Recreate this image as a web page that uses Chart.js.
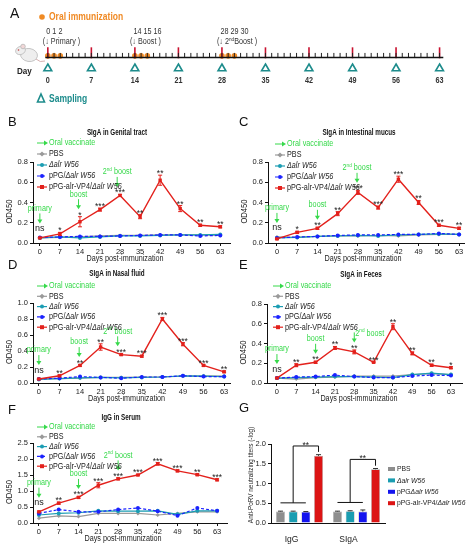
<!DOCTYPE html>
<html>
<head>
<meta charset="utf-8">
<title>Oral immunization and antibody responses</title>
<script src="https://cdn.jsdelivr.net/npm/chart.js@4.4.1/dist/chart.umd.min.js"></script>
<style>
  html, body { margin: 0; padding: 0; background: #fff; }
  #page { position: relative; width: 468px; height: 550px; overflow: hidden; background: #fff; }
  #page canvas { position: absolute; }
</style>
</head>
<body>
<div id="page">
  <canvas id="timeline" width="468" height="110" style="left:0px;top:0px"></canvas>
  <canvas id="genital" width="234" height="158" style="left:0px;top:110px"></canvas>
  <canvas id="intestinal" width="234" height="158" style="left:234px;top:110px"></canvas>
  <canvas id="nasal" width="234" height="155" style="left:0px;top:255px"></canvas>
  <canvas id="feces" width="234" height="155" style="left:234px;top:255px"></canvas>
  <canvas id="serum" width="234" height="155" style="left:0px;top:395px"></canvas>
  <canvas id="neutral" width="234" height="155" style="left:234px;top:395px"></canvas>
</div>
<script>
// ---- data ----
const days = [0, 7, 14, 21, 28, 35, 42, 49, 56, 63];
const immunizationDays = [0, 1, 2, 14, 15, 16, 28, 29, 30];
const doseStartDays = [0, 14, 28];
const samplingDays = [0, 7, 14, 21, 28, 35, 42, 49, 56, 63];
const firstDay = 0;
const lastDay = 63;

// B - SIgA in genital tract
const genitalPBS = [0.05, 0.055, 0.06, 0.07, 0.075, 0.075, 0.08, 0.08, 0.08, 0.075];
const genitalAlr = [0.05, 0.06, 0.05, 0.06, 0.07, 0.07, 0.075, 0.08, 0.08, 0.085];
const genitalPPG = [0.055, 0.06, 0.065, 0.065, 0.07, 0.075, 0.08, 0.08, 0.07, 0.075];
const genitalVP4 = [0.05, 0.09, 0.21, 0.33, 0.47, 0.26, 0.62, 0.34, 0.175, 0.16];
const genitalVP4Err = [0.005, 0.015, 0.05, 0.015, 0.01, 0.02, 0.05, 0.03, 0.01, 0.01];
const genitalStars = ['ns', '*', '*', '***', '***', '**', '**', '**', '**', '**'];

// C - SIgA in intestinal mucus
const intestPBS = [0.06, 0.055, 0.065, 0.07, 0.07, 0.075, 0.07, 0.08, 0.085, 0.085];
const intestAlr = [0.05, 0.055, 0.065, 0.07, 0.075, 0.07, 0.08, 0.085, 0.09, 0.085];
const intestPPG = [0.05, 0.06, 0.065, 0.075, 0.08, 0.08, 0.085, 0.085, 0.095, 0.085];
const intestVP4 = [0.04, 0.105, 0.145, 0.29, 0.5, 0.35, 0.63, 0.4, 0.175, 0.145];
const intestVP4Err = [0.005, 0.01, 0.01, 0.02, 0.02, 0.015, 0.03, 0.02, 0.01, 0.01];
const intestStars = ['ns', '*', '**', '**', '***', '***', '***', '**', '***', '**'];

// D - SIgA in nasal fluid
const nasalPBS = [0.05, 0.055, 0.06, 0.07, 0.07, 0.075, 0.075, 0.085, 0.09, 0.085];
const nasalAlr = [0.045, 0.055, 0.065, 0.07, 0.065, 0.07, 0.075, 0.09, 0.085, 0.08];
const nasalPPG = [0.05, 0.06, 0.08, 0.07, 0.06, 0.075, 0.075, 0.09, 0.08, 0.08];
const nasalVP4 = [0.05, 0.09, 0.22, 0.45, 0.355, 0.335, 0.8, 0.485, 0.22, 0.14];
const nasalVP4Err = [0.005, 0.01, 0.01, 0.04, 0.01, 0.01, 0.02, 0.02, 0.01, 0.01];
const nasalStars = ['ns', '**', '**', '**', '***', '***', '***', '***', '***', '**'];

// E - SIgA in feces
const fecesPBS = [0.05, 0.04, 0.055, 0.06, 0.07, 0.07, 0.07, 0.085, 0.095, 0.085];
const fecesAlr = [0.05, 0.055, 0.06, 0.065, 0.065, 0.06, 0.055, 0.085, 0.1, 0.085];
const fecesPPG = [0.05, 0.06, 0.065, 0.08, 0.065, 0.055, 0.055, 0.07, 0.08, 0.075];
const fecesVP4 = [0.05, 0.18, 0.21, 0.355, 0.315, 0.21, 0.57, 0.3, 0.18, 0.155];
const fecesVP4Err = [0.005, 0.015, 0.01, 0.015, 0.02, 0.005, 0.03, 0.015, 0.01, 0.01];
const fecesStars = ['ns', '**', '**', '**', '**', '***', '**', '**', '**', '*'];

// F - IgG in serum
const serumPBS = [0.15, 0.22, 0.2, 0.3, 0.3, 0.3, 0.25, 0.3, 0.35, 0.35];
const serumAlr = [0.25, 0.3, 0.32, 0.38, 0.37, 0.37, 0.38, 0.27, 0.38, 0.38];
const serumPPG = [0.3, 0.42, 0.35, 0.35, 0.42, 0.47, 0.37, 0.23, 0.47, 0.38];
const serumVP4 = [0.35, 0.62, 0.8, 1.18, 1.38, 1.5, 1.85, 1.63, 1.51, 1.35];
const serumVP4Err = [0.02, 0.03, 0.03, 0.08, 0.03, 0.02, 0.04, 0.03, 0.03, 0.03];
const serumStars = ['ns', '**', '***', '***', '***', '***', '***', '***', '**', '***'];

// G - neutralizing titers
const neutCategories = ['IgG', 'SIgA'];
const neutPBS = [0.29, 0.29];
const neutAlr = [0.29, 0.3];
const neutPPG = [0.28, 0.29];
const neutVP4 = [1.7, 1.36];
const neutErr = [[0.01, 0.01], [0.01, 0.01], [0.01, 0.04], [0.03, 0.02]];
const neutStars = ['**', '**'];

// ---- styles ----
const FONT = "'Liberation Sans', Arial, sans-serif";
const SQ = 0.85;            // the figure's lettering is horizontally condensed
const TEXT = '#222';
const AXIS = '#111';
const GREEN = '#36d94a';
const ORANGE = '#f08a24';
const TEAL = '#1d8c8c';
Chart.defaults.font.family = FONT;
Chart.defaults.color = TEXT;

const groupStyles = [
  { label: [['PBS']], color: '#9a9a9a', point: 'diamond', dash: [] },
  { label: [['Δalr W56', true]], color: '#1b9db3', point: 'circle', dash: [] },
  { label: [['pPG/'], ['Δalr W56', true]], color: '#1a22ff', point: 'circle', dash: [3, 2] },
  { label: [['pPG-alr-VP4/'], ['Δalr W56', true]], color: '#e3211c', point: 'square', dash: [] }
];
const barColors = ['#8e8e8e', '#1a9db1', '#1414ee', '#dc1414'];

// ---- drawing helpers ----
function fontStr(size, bold, italic) {
  return (italic ? 'italic ' : '') + (bold ? 'bold ' : '') + size + 'px ' + FONT;
}

function partsWidth(ctx, parts, size, bold, sq = SQ) {
  let w = 0;
  parts.forEach(([txt, ital, sup]) => {
    ctx.font = fontStr(sup ? size * 0.65 : size, bold, ital);
    w += ctx.measureText(txt).width * sq;
  });
  return w;
}

function drawParts(ctx, parts, x, y, size, color, bold, sq = SQ) {
  ctx.fillStyle = color;
  ctx.textAlign = 'left';
  ctx.textBaseline = 'middle';
  parts.forEach(([txt, ital, sup]) => {
    ctx.font = fontStr(sup ? size * 0.65 : size, bold, ital);
    ctx.save();
    ctx.translate(x, sup ? y - size * 0.3 : y);
    ctx.scale(sq, 1);
    ctx.fillText(txt, 0, 0);
    ctx.restore();
    x += ctx.measureText(txt).width * sq;
  });
  return x;
}

function drawCentered(ctx, parts, cx, y, size, color, bold, sq = SQ) {
  const w = partsWidth(ctx, parts, size, bold, sq);
  drawParts(ctx, parts, cx - w / 2, y, size, color, bold, sq);
}

function drawVertical(ctx, text, cx, cy, size, color) {
  ctx.save();
  ctx.translate(cx, cy);
  ctx.rotate(-Math.PI / 2);
  drawCentered(ctx, [[text]], 0, 0, size, color);
  ctx.restore();
}

function drawMarker(ctx, style, x, y, r) {
  ctx.beginPath();
  if (style === 'circle') ctx.arc(x, y, r, 0, Math.PI * 2);
  else if (style === 'square') ctx.rect(x - r, y - r, 2 * r, 2 * r);
  else if (style === 'diamond') {
    ctx.moveTo(x, y - r * 1.3); ctx.lineTo(x + r * 1.3, y);
    ctx.lineTo(x, y + r * 1.3); ctx.lineTo(x - r * 1.3, y); ctx.closePath();
  }
  ctx.fill();
}

function arrowDown(ctx, x, y1, y2, color) {
  ctx.strokeStyle = color;
  ctx.fillStyle = color;
  ctx.lineWidth = 1;
  ctx.beginPath(); ctx.moveTo(x, y1); ctx.lineTo(x, y2 - 3); ctx.stroke();
  ctx.beginPath(); ctx.moveTo(x - 2.5, y2 - 4); ctx.lineTo(x + 2.5, y2 - 4); ctx.lineTo(x, y2); ctx.closePath(); ctx.fill();
}

function arrowRight(ctx, x1, x2, y, color) {
  ctx.strokeStyle = color;
  ctx.fillStyle = color;
  ctx.lineWidth = 1;
  ctx.beginPath(); ctx.moveTo(x1, y); ctx.lineTo(x2 - 3, y); ctx.stroke();
  ctx.beginPath(); ctx.moveTo(x2 - 4, y - 2.5); ctx.lineTo(x2 - 4, y + 2.5); ctx.lineTo(x2, y); ctx.closePath(); ctx.fill();
}

function drawMouse(ctx) {
  ctx.save();
  ctx.strokeStyle = '#d6b0b0';
  ctx.lineWidth = 1;
  ctx.beginPath(); ctx.moveTo(36, 59); ctx.quadraticCurveTo(40, 63, 45, 61); ctx.stroke();
  ctx.fillStyle = '#eeeeee';
  ctx.strokeStyle = '#b8b8b8';
  ctx.lineWidth = 0.8;
  ctx.beginPath(); ctx.ellipse(29, 55, 8.5, 6.5, 0.15, 0, Math.PI * 2); ctx.fill(); ctx.stroke();
  ctx.beginPath(); ctx.ellipse(20.5, 50.5, 5, 4, -0.4, 0, Math.PI * 2); ctx.fill(); ctx.stroke();
  ctx.fillStyle = '#f2d7d7';
  ctx.beginPath(); ctx.arc(23, 46.5, 2.3, 0, Math.PI * 2); ctx.fill(); ctx.stroke();
  ctx.fillStyle = '#c04040';
  ctx.beginPath(); ctx.arc(18.5, 50, 0.8, 0, Math.PI * 2); ctx.fill();
  ctx.restore();
}

// ---- A: immunization timeline ----
const timelineDays = [];
for (let d = firstDay; d <= lastDay; d++) timelineDays.push(d);

const doseNotes = [
  [['(↓ Primary )']],
  [['(↓ Boost )']],
  [['(↓ 2'], ['nd', false, true], ['Boost )']]
];

const timelineText = {
  id: 'timelineText',
  beforeDatasetsDraw(chart) {
    drawMouse(chart.ctx);
  },
  afterDatasetsDraw(chart) {
    const ctx = chart.ctx;
    const px = d => chart.scales.x.getPixelForValue(d);
    ctx.save();
    drawParts(ctx, [['A']], 10, 14, 14, '#111', false, 1);

    ctx.fillStyle = ORANGE;
    ctx.beginPath(); ctx.arc(42, 17, 2.8, 0, Math.PI * 2); ctx.fill();
    drawParts(ctx, [['Oral immunization']], 49, 17, 10, ORANGE, true);

    doseStartDays.forEach((d, g) => {
      const label = immunizationDays.filter(v => v >= d && v < d + 3).join(' ');
      drawParts(ctx, [[label]], px(d) - 1.5, 32, 8.5, '#333');
      drawParts(ctx, doseNotes[g], px(d) - 5, 42, 8.5, '#333');
    });

    drawParts(ctx, [['Day']], 17, 71, 9.5, '#222', true);
    samplingDays.forEach(d => drawCentered(ctx, [[String(d)]], px(d), 81, 8.5, '#333', true));

    // sampling key
    ctx.strokeStyle = TEAL;
    ctx.lineWidth = 1.6;
    ctx.beginPath(); ctx.moveTo(41, 94); ctx.lineTo(44.5, 102); ctx.lineTo(37.5, 102); ctx.closePath(); ctx.stroke();
    drawParts(ctx, [['Sampling']], 49, 99, 10, TEAL, true);
    ctx.restore();
  }
};

new Chart(document.getElementById('timeline'), {
  type: 'scatter',
  data: {
    datasets: [
      {
        data: [{ x: firstDay - 0.4, y: 58 }, { x: lastDay + 0.6, y: 58 }],
        showLine: true, borderColor: '#111', borderWidth: 1.5, pointRadius: 0
      },
      {
        data: timelineDays.map(d => ({ x: d, y: 55.5 })),
        pointStyle: 'line', pointRotation: 90, pointRadius: 2.5,
        pointBorderColor: '#222', pointBorderWidth: 1
      },
      {
        data: samplingDays.map(d => ({ x: d, y: 52.5 })),
        pointStyle: 'line', pointRotation: 90, pointRadius: 5.5,
        pointBorderColor: '#c8102e', pointBorderWidth: 1.6
      },
      {
        data: immunizationDays.map(d => ({ x: d, y: 56 })),
        pointStyle: 'circle', pointRadius: 2.8,
        pointBackgroundColor: ORANGE, pointBorderWidth: 0
      },
      {
        data: samplingDays.map(d => ({ x: d, y: 70.5 })),
        pointStyle: 'triangle', pointRadius: 4.5,
        pointBackgroundColor: 'rgba(0,0,0,0)', pointBorderColor: TEAL, pointBorderWidth: 1.6
      }
    ]
  },
  options: {
    responsive: false,
    animation: false,
    events: [],
    layout: { padding: 0 },
    plugins: { legend: { display: false }, tooltip: { enabled: false } },
    scales: {
      x: { type: 'linear', display: false, min: -6.55, max: 66.43 },
      y: { type: 'linear', display: false, min: 0, max: 110, reverse: true }
    }
  },
  plugins: [timelineText]
});

// ---- B-F: OD450 time courses ----
const P_PRIMARY = [['primary']];
const P_BOOST = [['boost']];
const P_SECOND = [['2'], ['nd', false, true], [' boost']];

function panelDecor(p) {
  const box = p.box, area = p.area;
  return {
    id: 'decor',
    afterDatasetsDraw(chart) {
      const ctx = chart.ctx;
      const xs = chart.scales.x, ys = chart.scales.y;
      const red = p.series[3];
      ctx.save();
      // error bars on the vaccine group
      ctx.strokeStyle = groupStyles[3].color;
      ctx.lineWidth = 1;
      chart.getDatasetMeta(3).data.forEach((pt, i) => {
        const top = ys.getPixelForValue(red[i] + p.err[i]);
        const bot = ys.getPixelForValue(red[i] - p.err[i]);
        ctx.beginPath();
        ctx.moveTo(pt.x, top); ctx.lineTo(pt.x, bot);
        ctx.moveTo(pt.x - 2, top); ctx.lineTo(pt.x + 2, top);
        ctx.moveTo(pt.x - 2, bot); ctx.lineTo(pt.x + 2, bot);
        ctx.stroke();
      });
      // significance
      const markTop = [];
      ctx.fillStyle = TEXT;
      ctx.textAlign = 'center';
      ctx.textBaseline = 'alphabetic';
      p.stars.forEach((s, i) => {
        const x = xs.getPixelForValue(days[i]);
        if (s === 'ns') {
          const hi = Math.max(...p.series.map(v => v[i])) + p.err[i];
          const base = ys.getPixelForValue(hi) - 6;
          ctx.font = fontStr(9);
          ctx.fillText(s, x, base);
          markTop[i] = base - 5.5;
        } else {
          const base = ys.getPixelForValue(red[i] + p.err[i]) + 1;
          ctx.font = fontStr(8.5);
          ctx.fillText(s, x, base);
          markTop[i] = base - 6.5;
        }
      });
      // vaccination arrows
      p.notes.forEach(n => {
        const i = days.indexOf(n.day);
        const x = xs.getPixelForValue(n.day + (n.dx || 0));
        const tip = markTop[i] - 2;
        const start = tip - p.arrowLen;
        arrowDown(ctx, x, start, tip, GREEN);
        if (n.side === 'right') drawParts(ctx, n.parts, x + 1, start + 1, 8.5, GREEN);
        else drawCentered(ctx, n.parts, x, start - 5, 8.5, GREEN);
      });
      ctx.restore();
    },
    afterDraw(chart) {
      const ctx = chart.ctx;
      const xs = chart.scales.x;
      ctx.save();
      drawParts(ctx, [[p.letter]], p.letterAt[0] - box.x, p.letterAt[1] - box.y, 13, '#111', false, 1);
      drawCentered(ctx, [[p.title]], p.titleAt[0] - box.x, p.titleAt[1] - box.y, 9, '#111', true, 0.7);

      // axis titles
      const midX = (xs.getPixelForValue(days[0]) + xs.getPixelForValue(days[days.length - 1])) / 2 - 5;
      drawCentered(ctx, [['Days post-immunization']], midX, area.b + 16 - box.y, 8.5, TEXT);
      drawVertical(ctx, 'OD450', area.l - 23 - box.x, (area.t + area.b) / 2 + 9 - box.y, 9, TEXT);

      // legend
      const lx = p.legendAt[0] - box.x;
      const ly = p.legendAt[1] - box.y;
      const dy = p.legendAt[2];
      arrowRight(ctx, lx, lx + 11, ly, GREEN);
      drawParts(ctx, [['Oral vaccinate']], lx + 12, ly, 8.5, GREEN);
      groupStyles.forEach((g, k) => {
        const y = ly + dy * (k + 1);
        ctx.strokeStyle = g.color;
        ctx.lineWidth = 1.2;
        ctx.setLineDash(g.dash);
        ctx.beginPath(); ctx.moveTo(lx, y); ctx.lineTo(lx + 10, y); ctx.stroke();
        ctx.setLineDash([]);
        ctx.fillStyle = g.color;
        drawMarker(ctx, g.point, lx + 5, y, 2);
        drawParts(ctx, g.label, lx + 12, y, 8.5, TEXT);
      });
      ctx.restore();
    }
  };
}

function linePanel(p) {
  const box = p.box, area = p.area;
  new Chart(document.getElementById(p.id), {
    type: 'line',
    data: {
      datasets: p.series.map((vals, k) => ({
        data: days.map((d, i) => ({ x: d, y: vals[i] })),
        borderColor: groupStyles[k].color,
        backgroundColor: groupStyles[k].color,
        pointBackgroundColor: groupStyles[k].color,
        pointBorderColor: groupStyles[k].color,
        borderWidth: k === 3 ? 1.4 : 1.2,
        borderDash: groupStyles[k].dash,
        pointStyle: { diamond: 'rectRot', circle: 'circle', square: 'rect' }[groupStyles[k].point],
        pointRadius: k === 3 ? 2.4 : 2,
        pointBorderWidth: 0,
        tension: 0,
        order: 3 - k
      }))
    },
    options: {
      responsive: false,
      animation: false,
      events: [],
      layout: { padding: { left: 0, bottom: 0, top: area.t - box.y, right: box.x + box.w - area.r } },
      plugins: { legend: { display: false }, tooltip: { enabled: false } },
      scales: {
        x: {
          type: 'linear',
          min: p.xRange[0],
          max: p.xRange[1],
          afterBuildTicks: s => { s.ticks = days.map(v => ({ value: v })); },
          afterFit: s => { s.height = box.y + box.h - area.b; },
          grid: { drawOnChartArea: false, tickLength: 3, color: AXIS },
          border: { color: AXIS, width: 1 },
          ticks: { font: { size: 7.5 }, color: TEXT, padding: 1, maxRotation: 0, autoSkip: false }
        },
        y: {
          min: 0,
          max: p.yMax,
          afterFit: s => { s.width = area.l - box.x; },
          grid: { drawOnChartArea: false, tickLength: 3, color: AXIS },
          border: { color: AXIS, width: 1 },
          ticks: { stepSize: p.yStep, font: { size: 7.5 }, color: TEXT, padding: 2, callback: v => v.toFixed(1) }
        }
      }
    },
    plugins: [panelDecor(p)]
  });
}

linePanel({
  id: 'genital', letter: 'B', letterAt: [8, 122], title: 'SIgA in Genital tract', titleAt: [117, 133],
  box: { x: 0, y: 110, w: 234, h: 158 }, area: { l: 33, t: 162, r: 233, b: 243 },
  xRange: [-2.4, 66.4], yMax: 0.8, yStep: 0.2, legendAt: [37, 143, 11], arrowLen: 10,
  series: [genitalPBS, genitalAlr, genitalPPG, genitalVP4], err: genitalVP4Err, stars: genitalStars,
  notes: [{ day: 0, parts: P_PRIMARY }, { day: 14, dx: -0.5, parts: P_BOOST }, { day: 28, dx: -1, parts: P_SECOND }]
});

linePanel({
  id: 'intestinal', letter: 'C', letterAt: [239, 122], title: 'SIgA in Intestinal mucus', titleAt: [359, 133],
  box: { x: 234, y: 110, w: 234, h: 158 }, area: { l: 268, t: 162, r: 466, b: 243 },
  xRange: [-3.1, 64.7], yMax: 0.8, yStep: 0.2, legendAt: [275, 144, 11], arrowLen: 10,
  series: [intestPBS, intestAlr, intestPPG, intestVP4], err: intestVP4Err, stars: intestStars,
  notes: [{ day: 0, parts: P_PRIMARY }, { day: 14, parts: P_BOOST }, { day: 28, dx: -0.3, parts: P_SECOND }]
});

linePanel({
  id: 'nasal', letter: 'D', letterAt: [8, 265], title: 'SIgA in Nasal fluid', titleAt: [117, 274],
  box: { x: 0, y: 255, w: 234, h: 155 }, area: { l: 33, t: 303, r: 233, b: 383 },
  xRange: [-2.0, 65.0], yMax: 1.0, yStep: 0.2, legendAt: [37, 286, 10.3], arrowLen: 10,
  series: [nasalPBS, nasalAlr, nasalPPG, nasalVP4], err: nasalVP4Err, stars: nasalStars,
  notes: [{ day: 0, parts: P_PRIMARY }, { day: 14, dx: -0.3, parts: P_BOOST }, { day: 28, dx: -1.2, parts: P_SECOND }]
});

linePanel({
  id: 'feces', letter: 'E', letterAt: [239, 265], title: 'SIgA in Feces', titleAt: [361, 275],
  box: { x: 234, y: 255, w: 234, h: 155 }, area: { l: 267, t: 304, r: 462, b: 383 },
  xRange: [-3.6, 67.0], yMax: 0.8, yStep: 0.2, legendAt: [273, 286, 10.3], arrowLen: 10,
  series: [fecesPBS, fecesAlr, fecesPPG, fecesVP4], err: fecesVP4Err, stars: fecesStars,
  notes: [{ day: 0, parts: P_PRIMARY }, { day: 14, parts: P_BOOST }, { day: 28, parts: P_SECOND, side: 'right' }]
});

linePanel({
  id: 'serum', letter: 'F', letterAt: [8, 410], title: 'IgG in Serum', titleAt: [121, 418],
  box: { x: 0, y: 395, w: 234, h: 155 }, area: { l: 33, t: 443, r: 227, b: 523 },
  xRange: [-2.1, 66.5], yMax: 2.5, yStep: 0.5, legendAt: [37, 427, 9.8], arrowLen: 10,
  series: [serumPBS, serumAlr, serumPPG, serumVP4], err: serumVP4Err, stars: serumStars,
  notes: [{ day: 0, parts: P_PRIMARY }, { day: 14, parts: P_BOOST }, { day: 28, parts: P_SECOND }]
});

// ---- G: neutralizing titers ----
const neutBox = { x: 234, y: 395, w: 234, h: 155 };
const neutArea = { l: 271, t: 444, r: 385, b: 523 };
const neutSeries = [neutPBS, neutAlr, neutPPG, neutVP4];
const neutLabels = [
  [['PBS']],
  [['Δalr W56', true]],
  [['pPG'], ['Δalr W56', true]],
  [['pPG-alr-VP4/'], ['Δalr W56', true]]
];

const neutDecor = {
  id: 'neutDecor',
  afterDatasetsDraw(chart) {
    const ctx = chart.ctx, ys = chart.scales.y;
    ctx.save();
    // error bars
    neutSeries.forEach((vals, k) => {
      chart.getDatasetMeta(k).data.forEach((bar, c) => {
        const top = ys.getPixelForValue(vals[c] + neutErr[k][c]);
        const bot = ys.getPixelForValue(vals[c]);
        ctx.strokeStyle = '#333';
        ctx.lineWidth = 1;
        ctx.beginPath();
        ctx.moveTo(bar.x, bot); ctx.lineTo(bar.x, top);
        ctx.moveTo(bar.x - 2.5, top); ctx.lineTo(bar.x + 2.5, top);
        ctx.stroke();
      });
    });
    // significance brackets: vaccine group vs the three controls
    neutCategories.forEach((cat, c) => {
      const bars = [0, 1, 2, 3].map(k => chart.getDatasetMeta(k).data[c]);
      const ctrlTop = Math.max(neutPBS[c], neutAlr[c], neutPPG[c]) + 0.22;
      const yBase = ys.getPixelForValue(ctrlTop);
      const yTop = ys.getPixelForValue(neutVP4[c] + 0.25);
      const yRight = ys.getPixelForValue(neutVP4[c] + neutErr[3][c] + 0.07);
      ctx.strokeStyle = '#111';
      ctx.lineWidth = 1;
      ctx.beginPath();
      ctx.moveTo(bars[0].x, yBase); ctx.lineTo(bars[2].x, yBase);
      ctx.moveTo(bars[1].x, yBase); ctx.lineTo(bars[1].x, yTop);
      ctx.lineTo(bars[3].x, yTop); ctx.lineTo(bars[3].x, yRight);
      ctx.stroke();
      ctx.fillStyle = TEXT;
      ctx.font = fontStr(8.5);
      ctx.textAlign = 'center';
      ctx.textBaseline = 'alphabetic';
      ctx.fillText(neutStars[c], (bars[1].x + bars[3].x) / 2, yTop + 2);
    });
    ctx.restore();
  },
  afterDraw(chart) {
    const ctx = chart.ctx;
    ctx.save();
    drawParts(ctx, [['G']], 239 - neutBox.x, 408 - neutBox.y, 13, '#111', false, 1);
    drawVertical(ctx, 'Anti-PoRV neutralizing titers (-log)', 251 - neutBox.x, 475 - neutBox.y, 7.5, TEXT);
    neutLabels.forEach((lab, k) => {
      const y = 469 + 11.4 * k - neutBox.y;
      const x = 388 - neutBox.x;
      ctx.fillStyle = barColors[k];
      ctx.fillRect(x, y - 2, 7, 4);
      drawParts(ctx, lab, x + 9, y, 8, TEXT);
    });
    ctx.restore();
  }
};

new Chart(document.getElementById('neutral'), {
  type: 'bar',
  data: {
    labels: neutCategories,
    datasets: neutSeries.map((vals, k) => ({
      data: vals,
      backgroundColor: barColors[k],
      borderColor: 'rgba(0,0,0,0.35)',
      borderWidth: 0.6,
      categoryPercentage: 0.89,
      barPercentage: 0.7
    }))
  },
  options: {
    responsive: false,
    animation: false,
    events: [],
    layout: { padding: { left: 0, bottom: 0, top: neutArea.t - neutBox.y, right: neutBox.x + neutBox.w - neutArea.r } },
    plugins: { legend: { display: false }, tooltip: { enabled: false } },
    scales: {
      x: {
        afterFit: s => { s.height = neutBox.y + neutBox.h - neutArea.b; },
        grid: { display: false },
        border: { color: AXIS, width: 1 },
        ticks: { font: { size: 8.5 }, color: TEXT, padding: 4, labelOffset: -8 }
      },
      y: {
        min: 0,
        max: 2,
        afterFit: s => { s.width = neutArea.l - neutBox.x; },
        grid: { drawOnChartArea: false, tickLength: 3, color: AXIS },
        border: { color: AXIS, width: 1 },
        ticks: { stepSize: 0.5, font: { size: 7.5 }, color: TEXT, padding: 2, callback: v => v.toFixed(1) }
      }
    }
  },
  plugins: [neutDecor]
});
</script>
</body>
</html>
